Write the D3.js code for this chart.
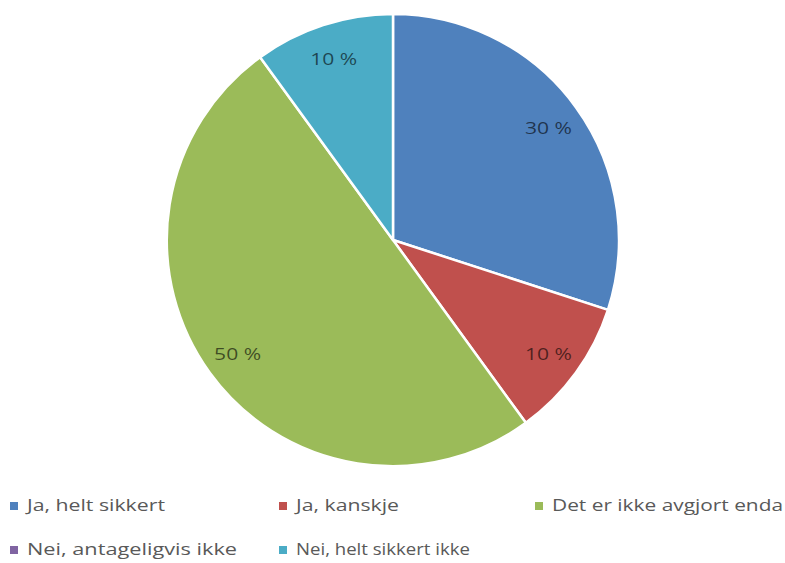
<!DOCTYPE html>
<html><head><meta charset="utf-8">
<script src="https://cdn.jsdelivr.net/npm/d3@7"></script>
<style>body{margin:0;background:#fff}svg{display:block}</style>
</head><body>
<svg id="c" width="785" height="563"></svg>
<script>
const categories = ["Ja, helt sikkert", "Ja, kanskje", "Det er ikke avgjort enda", "Nei, antageligvis ikke", "Nei, helt sikkert ikke"];
const values = [30, 10, 50, 0, 10];
const labels = ["30 %", "10 %", "50 %", "", "10 %"];
const colors = ["#4F81BD", "#C0504D", "#9BBB59", "#8064A2", "#4BACC6"];
const legendWidths = [138, 103, 231, 210, 174];

const svg = d3.select("#c");
const cx = 393, cy = 240, r = 226;
const font = "'Open Sans', 'Noto Sans', sans-serif";

const data = categories.map((c, i) => ({cat: c, value: values[i], label: labels[i], color: colors[i]}));
const pie = d3.pie().value(d => d.value).sort(null);
const arcs = pie(data);
const arc = d3.arc().innerRadius(0).outerRadius(r);
const labelArc = d3.arc().innerRadius(r * 0.85).outerRadius(r * 0.85);

const g = svg.append("g").attr("transform", `translate(${cx},${cy})`);
g.selectAll("path").data(arcs.filter(d => d.data.value > 0)).join("path")
  .attr("d", arc).attr("fill", d => d.data.color)
  .attr("stroke", "#fff").attr("stroke-width", 2.5).attr("stroke-linejoin", "round");

g.selectAll("text").data(arcs.filter(d => d.data.value > 0)).join("text")
  .attr("transform", d => { const [x, y] = labelArc.centroid(d); return `translate(${x},${y + 3})`; })
  .attr("text-anchor", "middle").attr("dominant-baseline", "middle")
  .attr("font-family", font).attr("font-size", 16)
  .attr("fill", "#000").attr("fill-opacity", 0.6)
  .attr("textLength", 47).attr("lengthAdjust", "spacingAndGlyphs")
  .text(d => d.data.label);

// Legend
const legX = [10, 279, 535];
const legY = [506, 550];
const leg = svg.append("g");
data.forEach((d, i) => {
  const row = Math.floor(i / 3), col = i % 3;
  const x = legX[col], y = legY[row];
  const item = leg.append("g").attr("transform", `translate(${x},${y})`);
  item.append("rect").attr("x", 0).attr("y", -4).attr("width", 8).attr("height", 8).attr("fill", d.color);
  item.append("text").attr("x", 17).attr("y", 0)
    .attr("dominant-baseline", "middle")
    .attr("font-family", font).attr("font-size", 17).attr("fill", "#595959")
    .attr("textLength", legendWidths[i]).attr("lengthAdjust", "spacingAndGlyphs")
    .text(d.cat);
});
</script>
</body></html>
